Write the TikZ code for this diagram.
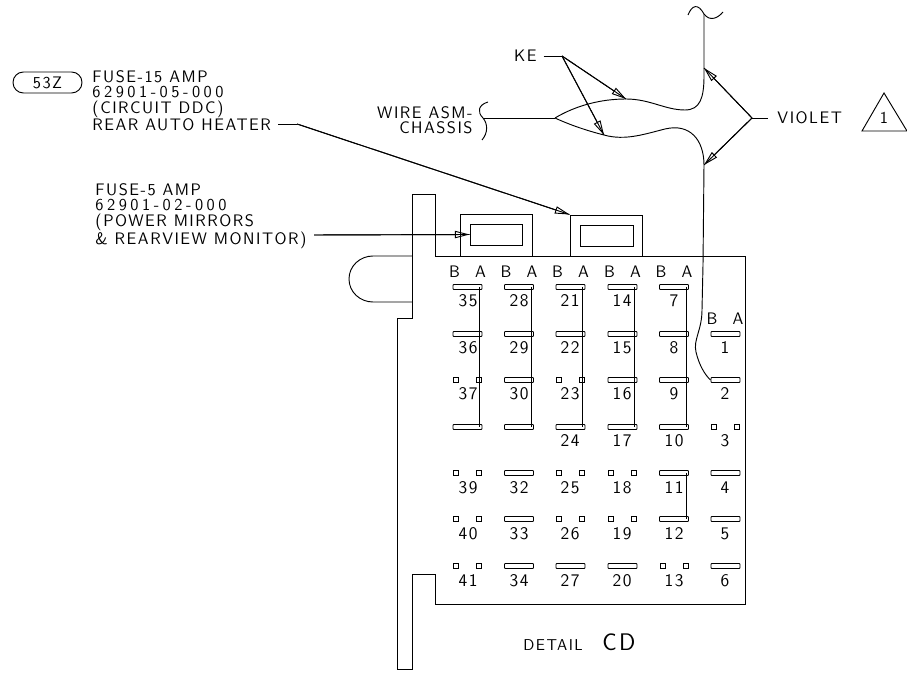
\documentclass[tikz,border=0pt]{standalone}
\usepackage{fontspec}
\setsansfont{Latin Modern Sans}[LetterSpace=9]
\newfontface\numface{Latin Modern Sans}[LetterSpace=21]
\usetikzlibrary{arrows.meta,positioning}
\begin{document}
\begin{tikzpicture}[x=0.75pt,y=-0.75pt,line width=0.7pt,
  lbl/.style={font=\sffamily\fontsize{12.5}{11.6}\selectfont,inner sep=0pt,align=left},
  pinlbl/.style={font=\sffamily\fontsize{13.3}{11.6}\selectfont,inner sep=0pt},
  tbar/.style={draw,rounded corners=0.6pt,minimum width=21.75pt,minimum height=3.75pt,inner sep=0pt},
  tsq/.style={draw,minimum size=3.75pt,inner sep=0pt},
  leader/.style={-{Triangle[open,length=11pt,width=5.5pt]},postaction={draw,-}}]
\useasboundingbox (0,0) rectangle (907,673);
% housing
\draw (435,256) -- (745,256) -- (745,604) -- (435,604) -- (435,574) -- (412,574)
  -- (412,669) -- (397,669) -- (397,318) -- (412,318) -- (412,194) -- (435,194) -- (435,256);
\draw (412,256) -- (373,256) .. controls (360,256) and (349,266) .. (349,279)
  .. controls (349,292) and (360,302) .. (373,302) -- (412,302);
% fuses
\node[draw,minimum width=54pt,minimum height=31.5pt,inner sep=0pt] (f5) at (496,235) {};
\node[draw,minimum width=39pt,minimum height=15.75pt,inner sep=0pt] (f5i) at (496,234.5) {};
\node[draw,minimum width=54pt,minimum height=30.75pt,inner sep=0pt] (f15) at (606,235.5) {};
\node[draw,minimum width=39.75pt,minimum height=15.75pt,inner sep=0pt] (f15i) at (606.5,235.5) {};
% terminals
\foreach \n/\cx/\ry in {35/467.5/287,36/467.5/334,x1/467.5/427,
  28/519/287,29/519/334,30/519/380,x2/519/427,32/519/473,33/519/519,34/519/566,
  21/570.5/287,22/570.5/334,24/570.5/427,27/570.5/566,
  14/622.5/287,15/622.5/334,16/622.5/380,17/622.5/427,20/622.5/566,
  7/674/287,8/674/334,9/674/380,10/674/427,11/674/473,12/674/519,
  1/725.5/334,2/725.5/380,4/725.5/473,5/725.5/519,6/725.5/566}
  \node[tbar] (t\n) at (\cx,\ry) {};
\foreach \n/\cx/\ry in {37/467.5/380,39/467.5/473,40/467.5/519,41/467.5/566,
  23/570.5/380,25/570.5/473,26/570.5/519,18/622.5/473,19/622.5/519,13/674/566,3/725.5/427}{
  \node[tsq] (s\n b) at (\cx-11.5,\ry) {};
  \node[tsq] (s\n a) at (\cx+11.5,\ry) {};
}
\foreach \n/\cx/\ry in {35/468/301,36/468/348,37/468/394,
  28/519/301,29/519/348,30/519/394,32/519/488,33/519/534,34/519/581,
  21/570/301,22/570/348,23/570/394,24/570/441,25/570/488,26/570/534,27/570/581,
  14/622/301,15/622/348,16/622/394,17/622/441,18/622/488,19/622/534,20/622/581,
  7/674/301,8/674/348,9/674/394,10/674/441,11/674/488,12/674/534,13/674/581,
  1/725/348,2/725/394,3/725/441,4/725/488,5/725/534,6/725/581,
  39/468/488,40/468/534,41/468/581}
  \node[pinlbl] (n\n) at (\cx,\ry) {\n};
\foreach \cx [count=\i] in {467.5,519,570.5,622.5,674}{
  \node[lbl] (pb\i) at (\cx-13,272) {B};
  \node[lbl] (pa\i) at (\cx+13,272) {A};
}
\node[lbl] (pb6) at (712,319) {B};
\node[lbl] (pa6) at (738,319) {A};
% jumpers
\foreach \p/\q in {t35/tx1,t28/tx2,t21/t24,t14/t17,t7/t10,t11/t12}
  \draw ([xshift=-2.25pt]\p.east) -- ([xshift=-2.25pt]\q.east);
% wire
\coordinate (wtop) at (704,14);
\coordinate (wsplit) at (555,118);
\coordinate (wupper) at (626,99);
\coordinate (wlower) at (604,135);
\coordinate (wv1) at (704,68);
\coordinate (wv2) at (704,165);
\draw (688,15) .. controls (692,5) and (698,3) .. (wtop) .. controls (710,22) and (718,18) .. (723,12);
\draw (wtop) -- (wv1) -- (704,76) .. controls (704,98) and (700,110) .. (685,110)
  .. controls (665,110) and (650,99) .. (wupper) .. controls (600,99) and (575,106) .. (wsplit);
\draw (wsplit) .. controls (570,125) and (588,131) .. (wlower) .. controls (625,141) and (645,134) .. (665,129)
  .. controls (690,123) and (704,140) .. (wv2) -- (703,265) -- (702,310)
  .. controls (702,330) and (693,340) .. (696,352) .. controls (699,365) and (705,375) .. (t2.west);
\coordinate (bmid) at (483,118);
\draw (488,102) .. controls (478,105) and (477,112) .. (bmid) .. controls (488,124) and (488,133) .. (482,140);
\draw (bmid) -- (wsplit);
% labels
\node[lbl,anchor=north east] (wasm) at (473,106) {\hfill WIRE ASM-\\\hfill CHASSIS};
\node[lbl,anchor=east] (ke) at (537,56) {KE};
\coordinate (kej) at (562,56);
\draw ([xshift=5pt]ke.east) -- (kej);
\draw[leader] (kej) -- (wupper);
\draw[leader] (kej) -- (wlower);
\node[lbl,anchor=west] (violet) at (777,118) {VIOLET};
\coordinate (vj) at (752,118);
\draw ([xshift=-7pt]violet.west) -- (vj);
\draw[leader] (vj) -- (wv1);
\draw[leader] (vj) -- (wv2);
\coordinate (tri1) at (884,93);
\coordinate (tri2) at (862,131);
\coordinate (tri3) at (907,131);
\draw (tri1) -- (tri2) -- (tri3) -- cycle;
\node[lbl] (trin) at (884,118) {1};
\node[draw,rounded corners=7.8pt,minimum width=51.75pt,minimum height=15.75pt,lbl] (pill) at (47.5,82.5) {53Z};
\node[lbl,anchor=north west] (fa) at (92,70) {FUSE-15 AMP\\{\numface 62901-05-000}\\(CIRCUIT DDC)\\REAR AUTO HEATER};
\coordinate (fae) at (278,124);
\coordinate (fam) at (297,124);
\draw (fae) -- (fam);
\draw[leader] (fam) -- (f15.north west);
\node[lbl,anchor=north west] (fb) at (95,183) {FUSE-5 AMP\\{\numface 62901-02-000}\\(POWER MIRRORS\\\& REARVIEW MONITOR)};
\coordinate (fbe) at (314,235);
\draw[leader] (fbe) -- (f5i.west);
\node[lbl,anchor=base west] (dt) at (523,650) {\fontsize{11.8}{13}\selectfont DETAIL};
\node[lbl,anchor=base west] (cd) at (602,650) {\fontsize{18}{20}\selectfont CD};
\end{tikzpicture}
\end{document}
